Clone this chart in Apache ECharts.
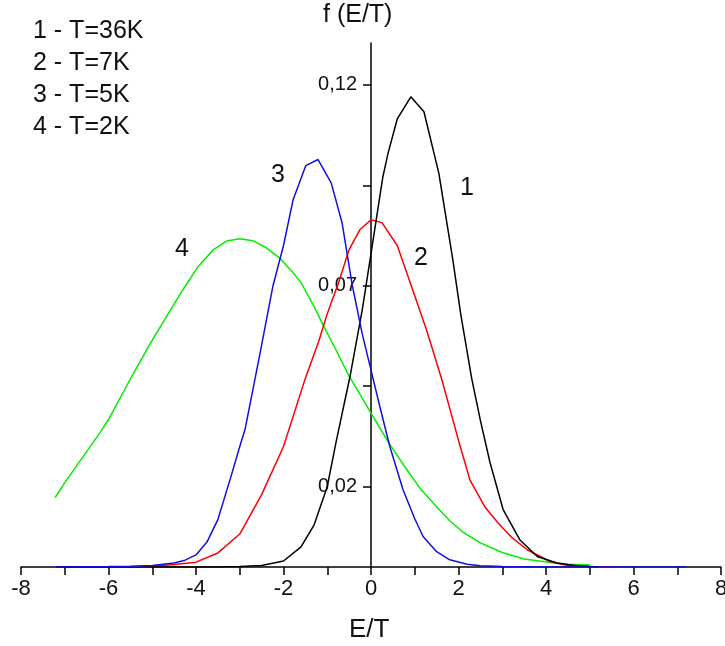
<!DOCTYPE html>
<html>
<head>
<meta charset="utf-8">
<script src="https://cdn.jsdelivr.net/npm/echarts@6/dist/echarts.min.js"></script>
<style>
  html, body { margin: 0; padding: 0; background: #fff; }
  #chart { width: 725px; height: 646px; }
</style>
</head>
<body>
<div id="chart"></div>
<script>
// curve 1 - T=36K (black)
const x1 = [-7.2, -3.5, -3, -2.5, -2, -1.6, -1.3, -1, -0.8, -0.48, -0.2, 0, 0.27, 0.39, 0.6, 0.91, 1.21, 1.55, 1.87, 2.05, 2.3, 2.5, 2.72, 3.02, 3.4, 3.8, 4.25, 4.7, 5.2]
const y1 = [0, 0, 0.0001, 0.0004, 0.0015, 0.005, 0.0105, 0.02, 0.031, 0.0474, 0.064, 0.078, 0.097, 0.103, 0.1115, 0.117, 0.1133, 0.098, 0.0765, 0.063, 0.047, 0.0365, 0.026, 0.0143, 0.0068, 0.0026, 0.001, 0.0003, 0]
// curve 2 - T=7K (red)
const x2 = [-5.5, -5, -4.5, -4, -3.5, -3, -2.5, -2, -1.5, -1.2, -1, -0.75, -0.5, -0.25, 0, 0.25, 0.6, 0.93, 1.27, 1.62, 2, 2.26, 2.6, 2.9, 3.2, 3.57, 4.1, 4.5, 5, 5.5]
const y2 = [0, 0.0002, 0.0006, 0.0012, 0.0035, 0.0082, 0.018, 0.03, 0.047, 0.056, 0.063, 0.0705, 0.079, 0.084, 0.0864, 0.0857, 0.08, 0.0697, 0.059, 0.0466, 0.0315, 0.0217, 0.015, 0.011, 0.0075, 0.0043, 0.0013, 0.0004, 0.0001, 0]
// curve 3 - T=5K (blue)
const x3 = [-7.2, -6, -5.5, -5, -4.5, -4.25, -4, -3.75, -3.5, -3.22, -3, -2.88, -2.54, -2.24, -2, -1.78, -1.49, -1.21, -0.91, -0.66, -0.43, -0.2, 0, 0.2, 0.43, 0.73, 1, 1.19, 1.5, 1.8, 2.2, 2.5, 3, 4, 7.2]
const y3 = [0, 0.0001, 0.0002, 0.0004, 0.001, 0.0017, 0.003, 0.0062, 0.0118, 0.0218, 0.03, 0.0342, 0.053, 0.07, 0.08, 0.0914, 0.0999, 0.1014, 0.0956, 0.0856, 0.0702, 0.058, 0.049, 0.04, 0.03, 0.0193, 0.012, 0.0076, 0.0038, 0.0018, 0.0007, 0.0003, 0.0001, 0, 0]
// curve 4 - T=2K (green)
const x4 = [-7.22, -7, -6.5, -6.19, -6, -5.51, -5.05, -4.82, -4.3, -3.95, -3.6, -3.3, -3, -2.7, -2.4, -2.1, -1.8, -1.6, -1.3, -1.1, -0.8, -0.5, -0.2, 0, 0.4, 0.8, 1.15, 1.5, 1.8, 2.1, 2.5, 3, 3.5, 4.1, 4.5, 5]
const y4 = [0.0173, 0.021, 0.0287, 0.0335, 0.0367, 0.0466, 0.0555, 0.0597, 0.069, 0.0748, 0.079, 0.0811, 0.0817, 0.0812, 0.0795, 0.077, 0.0735, 0.0708, 0.0648, 0.0603, 0.054, 0.0475, 0.042, 0.0383, 0.031, 0.0245, 0.0192, 0.015, 0.0115, 0.0087, 0.006, 0.0036, 0.002, 0.0011, 0.0007, 0.0005]

const yTicks = [0.02, 0.045, 0.07, 0.095, 0.12]
const yLabels = [0.02, 0.07, 0.12]
const yMax = 0.1304

const font = 'Arial, "Liberation Sans", sans-serif'
const zip = (xs, ys) => xs.map((x, i) => [x, ys[i]])

const line = (xs, ys, color) => ({
  type: 'line',
  data: zip(xs, ys),
  showSymbol: false,
  symbol: 'none',
  lineStyle: { color: color, width: 1.5 },
  itemStyle: { color: color }
})

const label = (text, x, y, size) => ({
  type: 'text',
  left: x,
  top: y,
  style: { text: text, fontSize: size || 25, fontFamily: font, fill: '#111' }
})

const axisColor = { color: '#000', width: 1.5 }

const chart = echarts.init(document.getElementById('chart'))
chart.setOption({
  animation: false,
  grid: [
    // plot area (-8..8)
    { left: 21, right: 4, top: 43, bottom: 79, outerBoundsMode: 'none' },
    // right half, its left edge is E/T = 0 -> carries the vertical axis
    { left: 371, right: 4, top: 43, bottom: 79, outerBoundsMode: 'none' }
  ],
  xAxis: [
    {
      type: 'value',
      gridIndex: 0,
      min: -8,
      max: 8,
      interval: 1,
      splitLine: { show: false },
      axisLine: { onZero: false, lineStyle: axisColor },
      axisTick: { length: 8, lineStyle: axisColor },
      axisLabel: {
        color: '#111',
        fontSize: 22,
        fontFamily: font,
        margin: 11,
        formatter: (v) => (v % 2 === 0 ? String(v) : '')
      }
    },
    { type: 'value', gridIndex: 1, min: 0, max: 8, show: false }
  ],
  yAxis: [
    { type: 'value', gridIndex: 0, min: 0, max: yMax, show: false },
    {
      type: 'value',
      gridIndex: 1,
      min: 0,
      max: yMax,
      splitLine: { show: false },
      axisLine: { show: true, onZero: false, lineStyle: axisColor },
      axisTick: { show: true, length: 8, customValues: yTicks, lineStyle: axisColor },
      axisLabel: {
        color: '#111',
        fontSize: 20,
        fontFamily: font,
        margin: 14,
        customValues: yLabels,
        formatter: (v) => v.toFixed(2).replace('.', ',')
      }
    }
  ],
  graphic: [
    label('1 - T=36K', 33, 19),
    label('2 - T=7K', 33, 51),
    label('3 - T=5K', 33, 83),
    label('4 - T=2K', 33, 115),
    label('f (E/T)', 323, 3),
    label('E/T', 349, 617, 26),
    label('1', 460, 176),
    label('2', 414, 246),
    label('3', 271, 163),
    label('4', 175, 237)
  ],
  series: [
    line(x4, y4, '#00ee00'),
    line(x2, y2, '#ff0000'),
    line(x1, y1, '#000000'),
    line(x3, y3, '#1010e0')
  ]
})
</script>
</body>
</html>
